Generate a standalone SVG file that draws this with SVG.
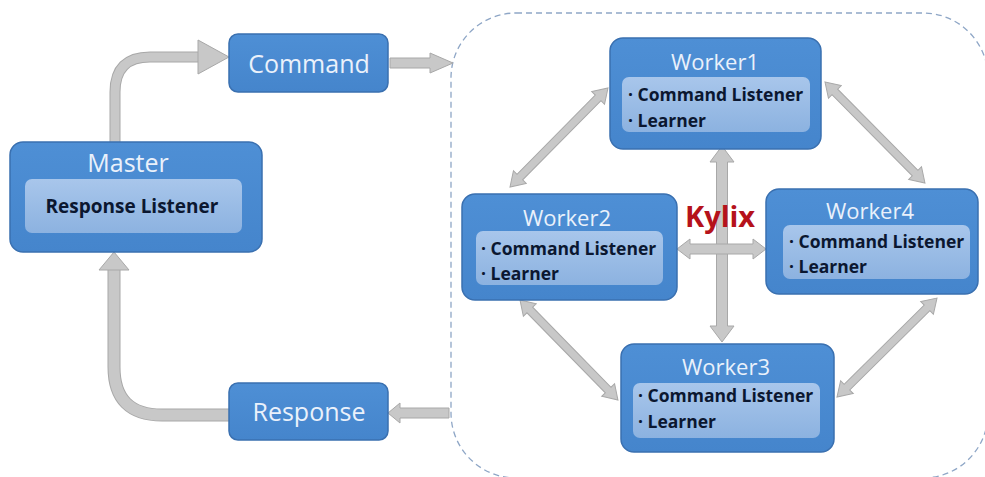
<svg xmlns="http://www.w3.org/2000/svg" width="985" height="477" viewBox="0 0 985 477">
<defs>
<linearGradient id="inner" x1="0" y1="0" x2="0" y2="1">
<stop offset="0" stop-color="#a8c6eb"/>
<stop offset="1" stop-color="#8cb2e0"/>
</linearGradient>
<linearGradient id="box" x1="0" y1="0" x2="0" y2="1">
<stop offset="0" stop-color="#4e8fd5"/>
<stop offset="1" stop-color="#4585cc"/>
</linearGradient>
<style>
.box{fill:url(#box);stroke:#3a70b0;stroke-width:1.5}
.inner{fill:url(#inner);stroke:none}
.title{font-family:"Open Sans","Liberation Sans",sans-serif;fill:#eaf1fb;text-anchor:middle}
.item{font-family:"Open Sans","Liberation Sans",sans-serif;font-weight:bold;fill:#0b1730;font-size:17.5px}
.arr{fill:#c8c8c8;stroke:#a8a8a8;stroke-width:1}
.pipeO{fill:none;stroke:#a8a8a8}
.pipe{fill:none;stroke:#c8c8c8}
</style>
</defs>
<rect width="985" height="477" fill="#ffffff"/>
<rect x="451" y="13" width="537" height="465" rx="65" ry="65" fill="none" stroke="#8ea6c6" stroke-width="1.3" stroke-dasharray="6,4"/>

<g id="connectors">
<path class="pipeO" stroke-width="11" d="M115 143 V92 Q115 57 150 57 H200"/>
<path class="pipe" stroke-width="9" d="M115 143 V92 Q115 57 150 57 H201"/>
<polygon class="arr" points="198,40 229,57 198,74"/>
<path class="pipeO" stroke-width="13" d="M230 415 H162 Q114 415 114 367 V269"/>
<path class="pipe" stroke-width="11" d="M231 415 H162 Q114 415 114 367 V268"/>
<polygon class="arr" points="99,270 114,252 129,270"/>
<polygon class="arr" points="390,58 430,58 430,53 453,63 430,73 430,68 390,68"/>
<polygon class="arr" points="449,408 400,408 400,403 388,413 400,423 400,418 449,418"/>
<polygon class="arr" transform="translate(510,187) rotate(-45.3)" points="0,0 14,-9 14,-4 125.3,-4 125.3,-9 139.3,0 125.3,9 125.3,4 14,4 14,9"/>
<polygon class="arr" transform="translate(825,82) rotate(45.3)" points="0,0 14,-9 14,-4 128.1,-4 128.1,-9 142.1,0 128.1,9 128.1,4 14,4 14,9"/>
<polygon class="arr" transform="translate(520,300) rotate(45.6)" points="0,0 14,-9 14,-4 126,-4 126,-9 140,0 126,9 126,4 14,4 14,9"/>
<polygon class="arr" transform="translate(837,397) rotate(-44.7)" points="0,0 14,-9 14,-4 126.7,-4 126.7,-9 140.7,0 126.7,9 126.7,4 14,4 14,9"/>
<polygon class="arr" transform="translate(722,146) rotate(90)" points="0,0 16,-12 16,-5.5 180,-5.5 180,-12 196,0 180,12 180,5.5 16,5.5 16,12"/>
<polygon class="arr" points="677,249 690,239 690,244 753,244 753,239 766,249 753,259 753,254 690,254 690,259"/>
</g>

<g id="command">
<rect class="box" x="229" y="34" width="159" height="58" rx="9"/>
<text class="title" x="309" y="73" font-size="25">Command</text>
</g>
<g id="response">
<rect class="box" x="229" y="383" width="159" height="57" rx="9"/>
<text class="title" x="309" y="421" font-size="25">Response</text>
</g>
<g id="master">
<rect class="box" x="10" y="142" width="252" height="110" rx="13"/>
<rect class="inner" x="25" y="179" width="217" height="54" rx="7"/>
<text class="title" x="128" y="172" font-size="25">Master</text>
<text class="item" x="132" y="213" font-size="19px" text-anchor="middle" style="font-size:19px">Response Listener</text>
</g>
<g id="worker1">
<rect class="box" x="610" y="38" width="211" height="111" rx="13"/>
<rect class="inner" x="622" y="77" width="188" height="55" rx="7"/>
<text class="title" x="715" y="70" font-size="22">Worker1</text>
<text class="item" x="628" y="101">· Command Listener</text>
<text class="item" x="628" y="127">· Learner</text>
</g>
<g id="worker2">
<rect class="box" x="462" y="194" width="215" height="106" rx="13"/>
<rect class="inner" x="476" y="231" width="187" height="54" rx="7"/>
<text class="title" x="567" y="226" font-size="22">Worker2</text>
<text class="item" x="481" y="255">· Command Listener</text>
<text class="item" x="481" y="280">· Learner</text>
</g>
<g id="worker4">
<rect class="box" x="766" y="189" width="212" height="105" rx="13"/>
<rect class="inner" x="783" y="225" width="187" height="54" rx="7"/>
<text class="title" x="870" y="219" font-size="22">Worker4</text>
<text class="item" x="789" y="248">· Command Listener</text>
<text class="item" x="789" y="273">· Learner</text>
</g>
<g id="worker3">
<rect class="box" x="621" y="344" width="213" height="108" rx="13"/>
<rect class="inner" x="633" y="383" width="187" height="55" rx="7"/>
<text class="title" x="726" y="375" font-size="22">Worker3</text>
<text class="item" x="638" y="402">· Command Listener</text>
<text class="item" x="638" y="428">· Learner</text>
</g>
<g id="kylix">
<text x="720" y="227" font-family="'Open Sans','Liberation Sans',sans-serif" font-weight="bold" font-size="29" fill="#b5121b" text-anchor="middle">Kylix</text>
</g>
</svg>
